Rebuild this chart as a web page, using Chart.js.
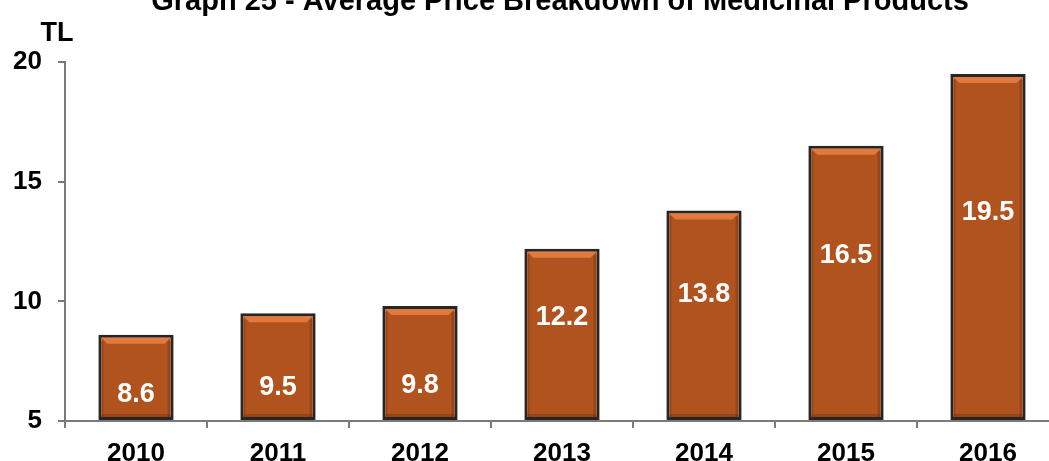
<!DOCTYPE html>
<html>
<head>
<meta charset="utf-8">
<script src="https://cdn.jsdelivr.net/npm/chart.js@4.4.1/dist/chart.umd.min.js"></script>
<style>
  html, body { margin: 0; padding: 0; background: #ffffff; overflow: hidden; }
  #wrap { position: absolute; left: 0; top: 0; width: 1070px; height: 461px; }
</style>
</head>
<body>
<div id="wrap"><canvas id="c" width="1070" height="461"></canvas></div>
<script>
const categories = ['2010', '2011', '2012', '2013', '2014', '2015', '2016'];
const priceValues = [8.6, 9.5, 9.8, 12.2, 13.8, 16.5, 19.5];
const yTickValues = [5, 10, 15, 20];
const titleText = 'Graph 25 - Average Price Breakdown of Medicinal Products';
const unitLabel = 'TL';

const FONT = '"Liberation Sans", Arial, sans-serif';
const BAR_FILL = '#B1531F';
const BAR_EDGE = '#262626';
const BEVEL = '#E27A3E';
const AXIS = '#7a7a7a';

const decorPlugin = {
  id: 'decor',
  afterDatasetsDraw(chart) {
    const ctx = chart.ctx;
    const meta = chart.getDatasetMeta(0);
    const ds = chart.data.datasets[0];
    ctx.save();
    meta.data.forEach((bar, i) => {
      const p = bar.getProps(['x', 'y', 'base', 'width'], true);
      const b = 3;
      const l = p.x - p.width / 2 + b, r = p.x + p.width / 2 - b;
      const t = p.y + b;
      // bevel highlight at top
      ctx.fillStyle = BEVEL;
      ctx.beginPath();
      ctx.moveTo(l, t);
      ctx.lineTo(r, t);
      ctx.lineTo(r - 6, t + 6);
      ctx.lineTo(l + 6, t + 6);
      ctx.closePath();
      ctx.fill();
      // subtle darker sides / bottom
      ctx.fillStyle = 'rgba(90,35,10,0.30)';
      ctx.fillRect(r - 3, t + 3, 3, p.base - b - t - 3);
      ctx.fillRect(l, t + 3, 2, p.base - b - t - 3);
      ctx.fillRect(l, p.base - b - 3, r - l, 3);
      // value label
      const h = p.base - p.y;
      const frac = h < 150 ? 0.3 : 0.6;
      ctx.fillStyle = '#ffffff';
      ctx.font = 'bold 27px ' + FONT;
      ctx.textAlign = 'center';
      ctx.textBaseline = 'middle';
      ctx.fillText(ds.data[i].toFixed(1), p.x, p.base - h * frac);
    });
    ctx.restore();
  },
  afterDraw(chart) {
    const ctx = chart.ctx;
    ctx.save();
    ctx.fillStyle = '#000000';
    ctx.textAlign = 'center';
    ctx.textBaseline = 'alphabetic';
    ctx.font = 'bold 29px ' + FONT;
    ctx.fillText(titleText, 560, 10);
    ctx.font = 'bold 27px ' + FONT;
    ctx.fillText(unitLabel, 57, 41);
    ctx.restore();
  }
};

new Chart(document.getElementById('c'), {
  type: 'bar',
  data: {
    labels: categories,
    datasets: [{
      data: priceValues,
      base: 5,
      backgroundColor: BAR_FILL,
      borderColor: BAR_EDGE,
      borderWidth: 3,
      borderSkipped: false,
      barPercentage: 0.53,
      categoryPercentage: 1.0
    }]
  },
  options: {
    responsive: false,
    animation: false,
    devicePixelRatio: 1,
    layout: { padding: { left: 0, top: 62, right: 11, bottom: 0 } },
    plugins: { legend: { display: false }, tooltip: { enabled: false }, title: { display: false } },
    scales: {
      x: {
        grid: { display: true, drawOnChartArea: false, offset: true, color: AXIS, lineWidth: 2, tickLength: 7 },
        border: { display: true, color: AXIS, width: 2 },
        ticks: { color: '#000', font: { family: FONT, size: 26, weight: 'bold' }, padding: 10, maxRotation: 0 },
        afterFit(s) { s.height = 40; }
      },
      y: {
        min: 5, max: 20,
        afterBuildTicks(s) { s.ticks = yTickValues.map(v => ({ value: v })); },
        grid: { display: true, drawOnChartArea: false, color: AXIS, lineWidth: 2, tickLength: 7 },
        border: { display: true, color: AXIS, width: 2 },
        ticks: { color: '#000', font: { family: FONT, size: 26, weight: 'bold' }, padding: 16 },
        afterFit(s) { s.width = 65; }
      }
    }
  },
  plugins: [decorPlugin]
});
</script>
</body>
</html>
